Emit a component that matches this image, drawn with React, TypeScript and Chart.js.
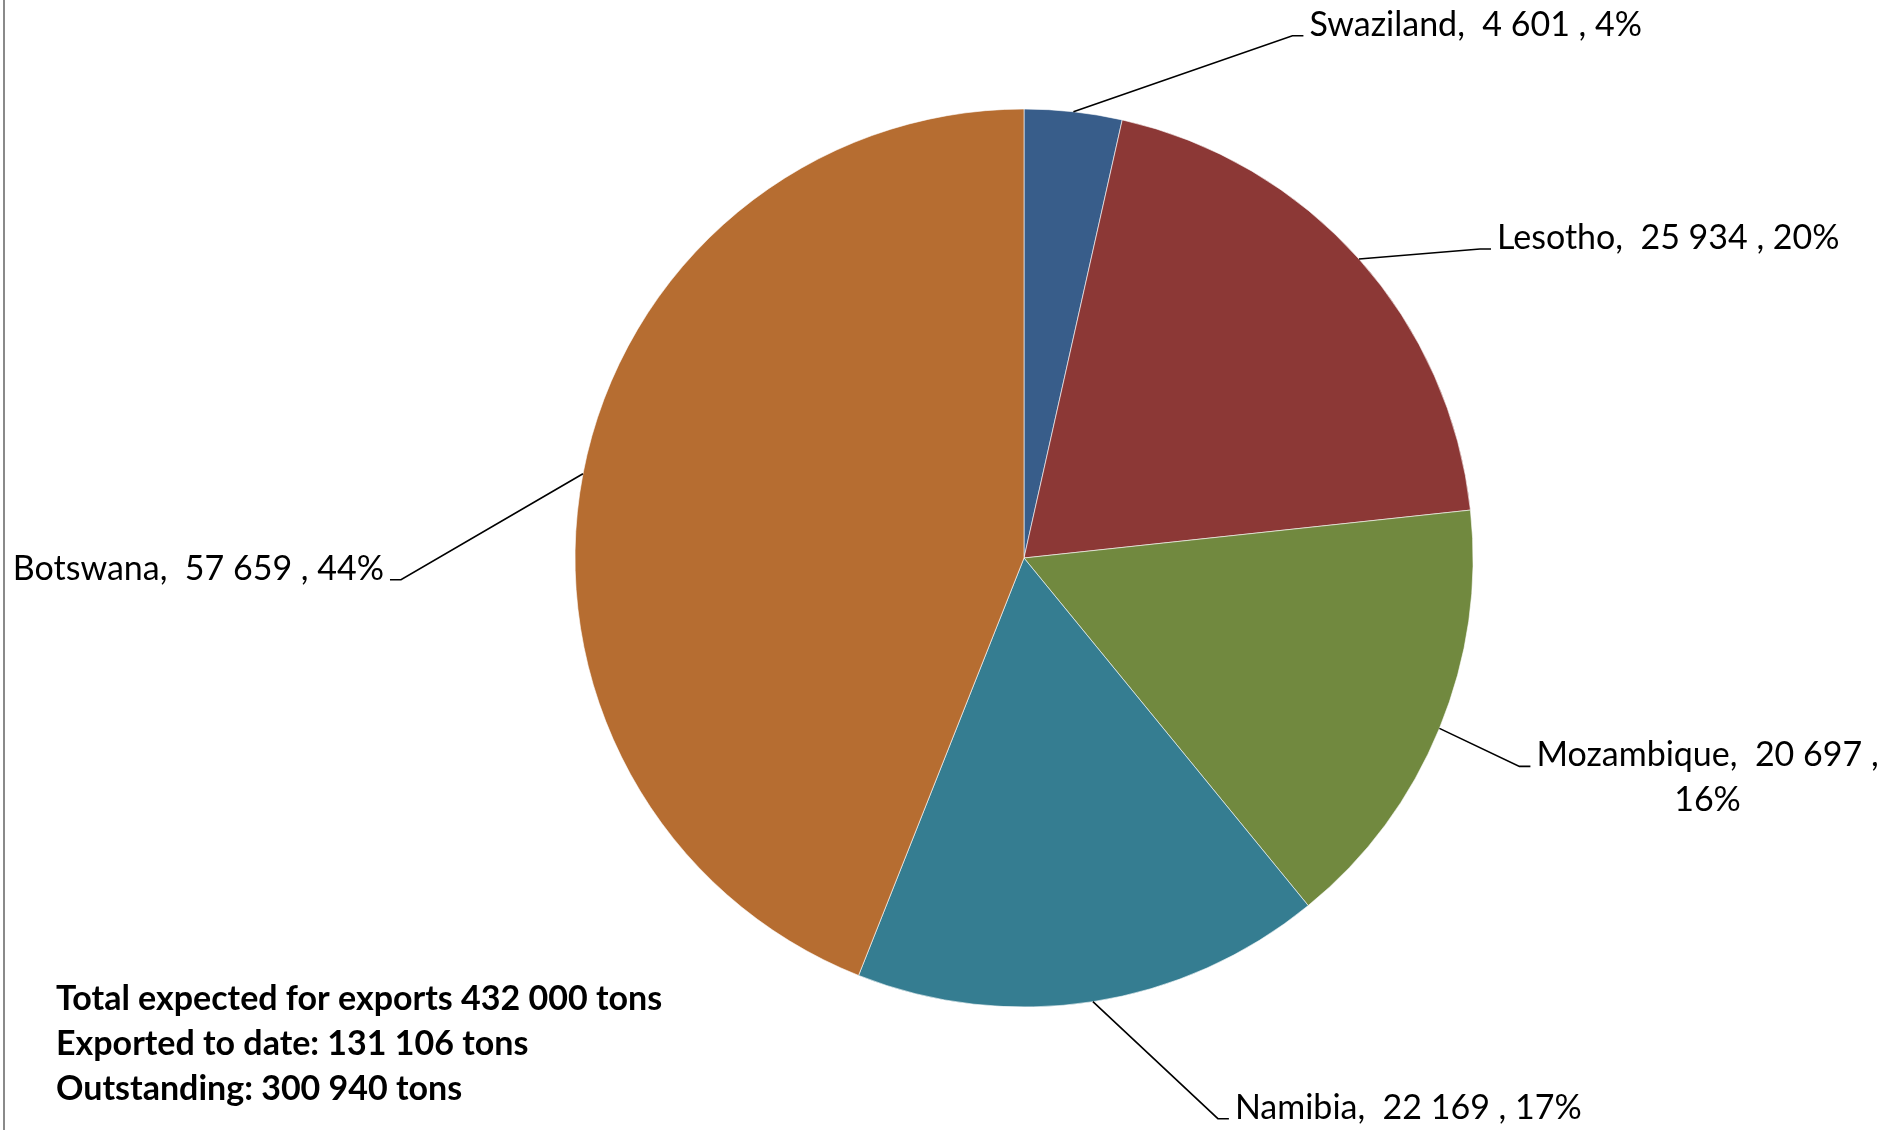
import React, { useEffect, useRef } from "react";
import { Chart, registerables } from "chart.js";

Chart.register(...registerables);

// ---- data ----
const countries = ["Swaziland", "Lesotho", "Mozambique", "Namibia", "Botswana"];
const tons = [4601, 25934, 20697, 22169, 57659];
const sliceColors = ["#385D8A", "#8C3836", "#71893F", "#357D91", "#B66D31"];
const totalExpected = 432000;
const exportedToDate = 131106;
const outstanding = 300940;

// ---- label layout (offset of leader elbow from the slice's outer mid-point) ----
const labelOffsets: [number, number][] = [
  [219, -76],
  [121, -10],
  [80, 38],
  [125, 117],
  [-182, 106],
];
const labelSides = ["right", "right", "right", "right", "left"];
const labelWrapPct = [false, false, true, false, false];

const W = 1898;
const H = 1130;
const LABEL_FONT = "34px Lato";
const NOTE_FONT = "bold 34px Lato";

const fmt = (n: number) => String(n).replace(/\B(?=(\d{3})+(?!\d))/g, " ");

const labelsPlugin = {
  id: "excelLabels",
  afterDatasetsDraw(chart: any) {
    const ctx: CanvasRenderingContext2D = chart.ctx;
    const meta = chart.getDatasetMeta(0);
    const sum = tons.reduce((a, b) => a + b, 0);
    ctx.save();
    // left frame edge
    ctx.fillStyle = "#8a8a8a";
    ctx.fillRect(3, 0, 2, H);

    meta.data.forEach((arc: any, i: number) => {
      const { x, y, startAngle, endAngle, outerRadius } = arc.getProps(
        ["x", "y", "startAngle", "endAngle", "outerRadius"],
        true
      );
      const mid = (startAngle + endAngle) / 2;
      const ax = x + outerRadius * Math.cos(mid);
      const ay = y + outerRadius * Math.sin(mid);
      const ex = ax + labelOffsets[i][0];
      const ey = ay + labelOffsets[i][1];
      const right = labelSides[i] === "right";
      const stub = 11;
      const gap = 6;
      const sx = right ? ex + stub : ex - stub;

      ctx.strokeStyle = "#000";
      ctx.lineWidth = 1.6;
      ctx.beginPath();
      ctx.moveTo(ax, ay);
      ctx.lineTo(ex, ey);
      ctx.lineTo(sx, ey);
      ctx.stroke();

      const pct = Math.round((tons[i] / sum) * 100);
      const head = `${countries[i]},  ${fmt(tons[i])} ,`;
      const pctText = `${pct}%`;
      ctx.font = LABEL_FONT;
      ctx.fillStyle = "#000";
      ctx.textBaseline = "alphabetic";
      const tx = right ? sx + gap : sx - gap;
      if (labelWrapPct[i]) {
        ctx.textAlign = "left";
        ctx.fillText(head, tx, ey);
        const w = ctx.measureText(head).width;
        ctx.textAlign = "center";
        ctx.fillText(pctText, tx + w / 2, ey + 45);
      } else {
        ctx.textAlign = right ? "left" : "right";
        ctx.fillText(`${head} ${pctText}`, tx, ey);
      }
    });

    // notes
    const notes = [
      `Total expected for exports ${fmt(totalExpected)} tons`,
      `Exported to date: ${fmt(exportedToDate)} tons`,
      `Outstanding: ${fmt(outstanding)} tons`,
    ];
    ctx.font = NOTE_FONT;
    ctx.textAlign = "left";
    ctx.fillStyle = "#000";
    notes.forEach((t, k) => ctx.fillText(t, 56, 1010 + k * 45));
    ctx.restore();
  },
};

export default function App() {
  const ref = useRef<HTMLCanvasElement | null>(null);
  useEffect(() => {
    let chart: Chart | null = null;
    let cancelled = false;
    const make = () => {
      if (cancelled || !ref.current) return;
      chart = new Chart(ref.current, {
        type: "pie",
        data: {
          labels: countries,
          datasets: [
            {
              data: tons,
              backgroundColor: sliceColors,
              borderColor: "#ffffff",
              borderWidth: 0.6,
            },
          ],
        },
        options: {
          responsive: false,
          animation: false,
          devicePixelRatio: 1,
          radius: 449,
          layout: { padding: { left: 150, right: 0, top: 0, bottom: 14 } },
          plugins: {
            legend: { display: false },
            tooltip: { enabled: false },
            title: { display: false },
          },
        } as any,
        plugins: [labelsPlugin],
      });
    };
    Promise.all([
      document.fonts.load(LABEL_FONT),
      document.fonts.load(NOTE_FONT),
    ])
      .catch(() => null)
      .then(make);
    return () => {
      cancelled = true;
      if (chart) chart.destroy();
    };
  }, []);
  return (
    <div
      style={{
        position: "absolute",
        left: 0,
        top: 0,
        width: W,
        height: H,
        background: "#fff",
      }}
    >
      <canvas ref={ref} width={W} height={H} style={{ width: W, height: H }} />
    </div>
  );
}
